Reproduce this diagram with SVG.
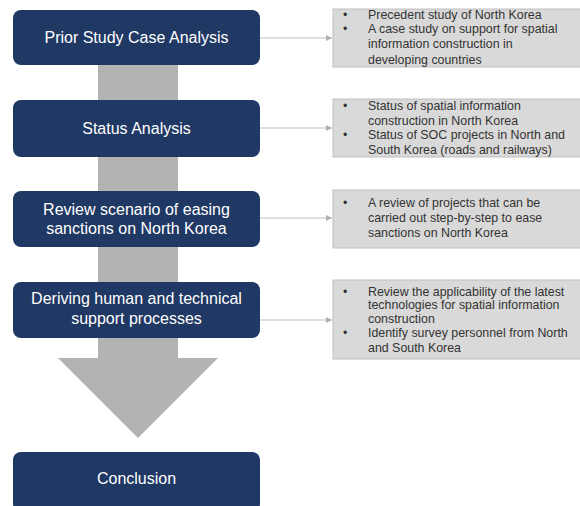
<svg xmlns="http://www.w3.org/2000/svg" width="580" height="506" viewBox="0 0 580 506">
<style>
.step{fill:#1f3864;}
.st{font-family:"Liberation Sans",Arial,sans-serif;font-size:16px;fill:#ffffff;text-anchor:middle;}
.note{fill:#d9d9d9;stroke:#bfbfbf;stroke-width:1;}
.nt{font-family:"Liberation Sans",Arial,sans-serif;font-size:12.4px;fill:#333333;}
.conn{stroke:#c0c0c0;stroke-width:1.2;fill:none;marker-end:url(#ah);}
</style>
<defs>
<marker id="ah" viewBox="0 0 6 6" refX="6" refY="3" markerWidth="6" markerHeight="6" markerUnits="userSpaceOnUse" orient="auto">
<path d="M0,0 L6,3 L0,6 Z" fill="#b0b0b0"/>
</marker>
</defs>
<rect width="580" height="506" fill="#ffffff"/>
<g id="flow-arrow">
<polygon points="98,60 178,60 178,358 218,358 138,438 58,358 98,358" fill="#b3b3b3"/>
</g>
<g id="connectors">
<line class="conn" x1="260" y1="38" x2="332" y2="38"/>
<line class="conn" x1="260" y1="128" x2="332" y2="128"/>
<line class="conn" x1="260" y1="218" x2="332" y2="218"/>
<line class="conn" x1="260" y1="320" x2="332" y2="320"/>
</g>
<g id="step1"><rect class="step" x="13" y="10" width="247" height="55" rx="8"/><text class="st" x="136.5" y="43">Prior Study Case Analysis</text></g>
<g id="step2"><rect class="step" x="13" y="100" width="247" height="57" rx="8"/><text class="st" x="136.5" y="134">Status Analysis</text></g>
<g id="step3"><rect class="step" x="13" y="191" width="247" height="56" rx="8"/><text class="st" x="136.5" y="215">Review scenario of easing</text><text class="st" x="136.5" y="234">sanctions on North Korea</text></g>
<g id="step4"><rect class="step" x="13" y="282" width="247" height="56" rx="8"/><text class="st" x="136.5" y="304">Deriving human and technical</text><text class="st" x="136.5" y="324">support processes</text></g>
<g id="step5"><rect class="step" x="13" y="452" width="247" height="60" rx="8"/><text class="st" x="136.5" y="484">Conclusion</text></g>
<g id="note1"><rect class="note" x="333" y="9" width="250" height="58"/>
<text class="nt" x="343" y="19">•</text><text class="nt" x="368" y="19">Precedent study of North Korea</text>
<text class="nt" x="343" y="33">•</text><text class="nt" x="368" y="33">A case study on support for spatial</text>
<text class="nt" x="368" y="48">information construction in</text>
<text class="nt" x="368" y="64">developing countries</text></g>
<g id="note2"><rect class="note" x="333" y="99" width="250" height="58"/>
<text class="nt" x="343" y="110">•</text><text class="nt" x="368" y="110">Status of spatial information</text>
<text class="nt" x="368" y="125">construction in North Korea</text>
<text class="nt" x="343" y="139">•</text><text class="nt" x="368" y="139">Status of SOC projects in North and</text>
<text class="nt" x="368" y="154">South Korea (roads and railways)</text></g>
<g id="note3"><rect class="note" x="333" y="190" width="250" height="58"/>
<text class="nt" x="343" y="207">•</text><text class="nt" x="368" y="207">A review of projects that can be</text>
<text class="nt" x="368" y="222">carried out step-by-step to ease</text>
<text class="nt" x="368" y="237">sanctions on North Korea</text></g>
<g id="note4"><rect class="note" x="333" y="280" width="250" height="79"/>
<text class="nt" x="343" y="296">•</text><text class="nt" x="368" y="296">Review the applicability of the latest</text>
<text class="nt" x="368" y="309">technologies for spatial information</text>
<text class="nt" x="368" y="323">construction</text>
<text class="nt" x="343" y="337">•</text><text class="nt" x="368" y="337">Identify survey personnel from North</text>
<text class="nt" x="368" y="352">and South Korea</text></g>
</svg>
